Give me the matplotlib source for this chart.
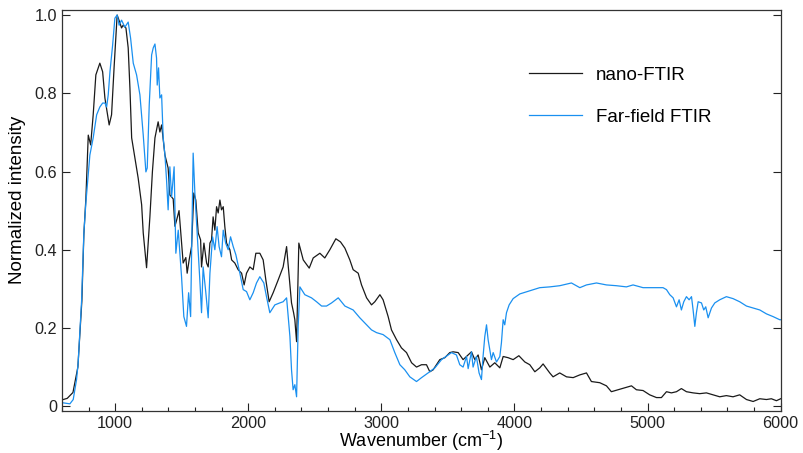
import matplotlib
matplotlib.use("Agg")
import matplotlib.pyplot as plt
from matplotlib.ticker import MultipleLocator, FixedLocator

plt.rcParams['font.family'] = ['Liberation Sans', 'DejaVu Sans']
plt.rcParams['mathtext.fontset'] = 'custom'
plt.rcParams['mathtext.rm'] = 'Liberation Sans'
plt.rcParams['mathtext.it'] = 'Liberation Sans:italic'

# nano-FTIR spectrum (wavenumber, normalized intensity)
nano_wn = [600, 640, 683, 720, 750, 765, 780, 798, 816, 835, 855, 885, 906, 923, 955,
           973, 993, 1015, 1036, 1048, 1060, 1081, 1098, 1111, 1124, 1148, 1173, 1199,
           1211, 1236, 1261, 1280, 1299, 1323, 1336, 1349, 1374, 1398, 1411, 1436, 1449,
           1462, 1480, 1511, 1531, 1541, 1556, 1574, 1591, 1606, 1624, 1642, 1649, 1667,
           1687, 1699, 1712, 1724, 1736, 1749, 1762, 1774, 1787, 1799, 1812, 1824, 1837,
           1862, 1875, 1899, 1924, 1950, 1969, 1987, 2012, 2037, 2057, 2087, 2112, 2132,
           2157, 2187, 2225, 2262, 2288, 2300, 2325, 2340, 2350, 2363, 2380, 2413, 2458,
           2488, 2538, 2575, 2613, 2658, 2693, 2726, 2763, 2788, 2826, 2851, 2889, 2926,
           2951, 2989, 3013, 3051, 3076, 3114, 3151, 3189, 3227, 3264, 3302, 3339, 3364,
           3389, 3439, 3477, 3514, 3539, 3577, 3614, 3652, 3677, 3702, 3727, 3752, 3777,
           3815, 3852, 3890, 3915, 3952, 3990, 4033, 4078, 4115, 4153, 4190, 4215, 4265,
           4290, 4340, 4391, 4441, 4491, 4541, 4578, 4641, 4691, 4728, 4778, 4829, 4879,
           4916, 4966, 5016, 5067, 5104, 5142, 5179, 5217, 5254, 5292, 5342, 5392, 5442,
           5492, 5542, 5592, 5642, 5692, 5743, 5793, 5843, 5893, 5930, 5968, 6000]
nano_int = [0.016, 0.020, 0.035, 0.10, 0.27, 0.44, 0.53, 0.693, 0.668, 0.745, 0.847, 0.877,
            0.855, 0.788, 0.719, 0.745, 0.872, 1.0, 0.98, 0.967, 0.974, 0.967, 0.916, 0.813,
            0.686, 0.635, 0.583, 0.515, 0.443, 0.354, 0.484, 0.60, 0.686, 0.727, 0.701, 0.719,
            0.642, 0.609, 0.54, 0.53, 0.46, 0.476, 0.50, 0.366, 0.38, 0.34, 0.374, 0.408,
            0.545, 0.527, 0.443, 0.425, 0.356, 0.417, 0.366, 0.356, 0.417, 0.425, 0.484,
            0.45, 0.51, 0.494, 0.527, 0.502, 0.51, 0.459, 0.417, 0.40, 0.374, 0.366, 0.349,
            0.34, 0.31, 0.34, 0.356, 0.349, 0.391, 0.391, 0.374, 0.323, 0.267, 0.29, 0.323,
            0.356, 0.408, 0.36, 0.264, 0.24, 0.221, 0.165, 0.417, 0.374, 0.353, 0.379, 0.391,
            0.379, 0.40, 0.428, 0.42, 0.404, 0.374, 0.349, 0.34, 0.31, 0.277, 0.259, 0.267,
            0.285, 0.272, 0.229, 0.195, 0.17, 0.149, 0.137, 0.111, 0.10, 0.106, 0.106, 0.088,
            0.093, 0.119, 0.124, 0.137, 0.139, 0.137, 0.119, 0.131, 0.139, 0.119, 0.131,
            0.093, 0.124, 0.10, 0.111, 0.098, 0.127, 0.124, 0.119, 0.129, 0.113, 0.106,
            0.088, 0.098, 0.108, 0.085, 0.075, 0.085, 0.075, 0.073, 0.08, 0.085, 0.063,
            0.06, 0.052, 0.037, 0.042, 0.047, 0.052, 0.042, 0.04, 0.029, 0.022, 0.022,
            0.037, 0.034, 0.037, 0.045, 0.037, 0.034, 0.032, 0.034, 0.029, 0.024, 0.027,
            0.024, 0.029, 0.017, 0.012, 0.019, 0.017, 0.019, 0.014, 0.019]

# far-field FTIR spectrum
far_wn = [600, 660, 685, 710, 722, 748, 765, 780, 810, 835, 861, 885, 906, 923, 936, 948,
          961, 981, 998, 1015, 1030, 1048, 1073, 1098, 1116, 1136, 1161, 1186, 1211, 1231,
          1241, 1256, 1274, 1286, 1299, 1311, 1316, 1326, 1336, 1349, 1361, 1374, 1386,
          1398, 1411, 1424, 1443, 1456, 1474, 1499, 1516, 1536, 1552, 1567, 1586, 1599,
          1616, 1636, 1649, 1661, 1679, 1699, 1712, 1732, 1749, 1766, 1781, 1799, 1812,
          1830, 1849, 1867, 1887, 1907, 1937, 1962, 1987, 2012, 2037, 2062, 2087, 2117,
          2137, 2162, 2200, 2237, 2262, 2288, 2313, 2325, 2337, 2350, 2363, 2375, 2388,
          2425, 2475, 2513, 2551, 2588, 2626, 2676, 2726, 2788, 2838, 2889, 2926, 2964,
          3013, 3064, 3101, 3139, 3176, 3214, 3264, 3302, 3351, 3402, 3452, 3502, 3527,
          3564, 3589, 3614, 3640, 3652, 3677, 3689, 3714, 3734, 3752, 3764, 3777, 3790,
          3802, 3815, 3827, 3840, 3865, 3890, 3902, 3915, 3927, 3940, 3960, 3990, 4040,
          4115, 4190, 4265, 4340, 4428, 4491, 4541, 4616, 4691, 4766, 4841, 4891, 4966,
          5041, 5116, 5142, 5167, 5192, 5217, 5237, 5254, 5272, 5292, 5312, 5330, 5342,
          5355, 5367, 5380, 5405, 5422, 5437, 5455, 5480, 5505, 5542, 5592, 5642, 5692,
          5743, 5793, 5843, 5893, 5943, 5993, 6000]
far_int = [0.009, 0.006, 0.017, 0.068, 0.111, 0.27, 0.443, 0.52, 0.642, 0.686, 0.745, 0.765,
           0.775, 0.775, 0.765, 0.796, 0.855, 0.923, 0.992, 1.0, 0.974, 0.987, 0.969, 0.982,
           0.941, 0.877, 0.847, 0.796, 0.693, 0.599, 0.609, 0.77, 0.898, 0.916, 0.926, 0.89,
           0.821, 0.865, 0.788, 0.796, 0.686, 0.642, 0.579, 0.502, 0.612, 0.535, 0.612,
           0.391, 0.45, 0.33, 0.229, 0.204, 0.29, 0.229, 0.647, 0.545, 0.443, 0.323, 0.239,
           0.356, 0.298, 0.226, 0.34, 0.433, 0.40, 0.459, 0.408, 0.382, 0.45, 0.417, 0.40,
           0.433, 0.408, 0.387, 0.34, 0.298, 0.293, 0.272, 0.29, 0.315, 0.331, 0.315, 0.28,
           0.239, 0.259, 0.264, 0.267, 0.277, 0.178, 0.093, 0.042, 0.055, 0.024, 0.204,
           0.305, 0.285, 0.277, 0.267, 0.256, 0.256, 0.264, 0.277, 0.256, 0.246, 0.226,
           0.208, 0.195, 0.188, 0.183, 0.17, 0.137, 0.106, 0.093, 0.075, 0.063, 0.073,
           0.085, 0.098, 0.119, 0.131, 0.137, 0.131, 0.106, 0.10, 0.127, 0.096, 0.139, 0.10,
           0.127, 0.085, 0.068, 0.127, 0.178, 0.208, 0.17, 0.144, 0.119, 0.137, 0.113,
           0.127, 0.162, 0.221, 0.208, 0.239, 0.259, 0.275, 0.287, 0.295, 0.303, 0.305,
           0.308, 0.315, 0.303, 0.31, 0.315, 0.31, 0.308, 0.305, 0.31, 0.303, 0.303, 0.303,
           0.298, 0.285, 0.277, 0.254, 0.272, 0.246, 0.267, 0.28, 0.272, 0.28, 0.246, 0.204,
           0.239, 0.267, 0.264, 0.246, 0.254, 0.226, 0.251, 0.264, 0.272, 0.28, 0.275,
           0.267, 0.256, 0.251, 0.246, 0.236, 0.229, 0.221, 0.221]

x_ticks = [1000, 2000, 3000, 4000, 5000, 6000]
y_ticks = [0, 0.2, 0.4, 0.6, 0.8, 1.0]
y_tick_labels = ['0', '0.2', '0.4', '0.6', '0.8', '1.0']

fig = plt.figure(figsize=(8.04, 4.53), dpi=100)
ax = fig.add_axes([0.077, 0.093, 0.894, 0.885])

ax.plot(nano_wn, nano_int, color='#1a1a1a', linewidth=0.9, label='nano-FTIR')
ax.plot(far_wn, far_int, color='#1a90f0', linewidth=0.9, label='Far-field FTIR')

ax.set_xlim(600, 6000)
ax.set_ylim(-0.012, 1.013)
ax.xaxis.set_major_locator(FixedLocator(x_ticks))
ax.xaxis.set_minor_locator(MultipleLocator(200))
ax.set_yticks(y_ticks)
ax.set_yticklabels(y_tick_labels)

ax.tick_params(axis='both', which='both', direction='in', labelsize=11.7, colors='#222222')
ax.tick_params(axis='y', right=True)
ax.tick_params(which='major', length=6, width=0.8)
ax.tick_params(which='minor', length=3, width=0.8)
for s in ax.spines.values():
    s.set_color('#333333')
    s.set_linewidth(0.9)

ax.set_xlabel('Wavenumber (cm$^{\\mathregular{-1}}$)', fontsize=13, labelpad=-1)
ax.set_ylabel('Normalized intensity', fontsize=13.5)
ax.yaxis.set_label_coords(-0.050, 0.526)

ax.legend(loc='upper left', bbox_to_anchor=(0.626, 0.90), frameon=False,
          fontsize=13.5, handlelength=2.85, handletextpad=0.75, labelspacing=1.3)

fig.savefig('out.png', dpi=100)
